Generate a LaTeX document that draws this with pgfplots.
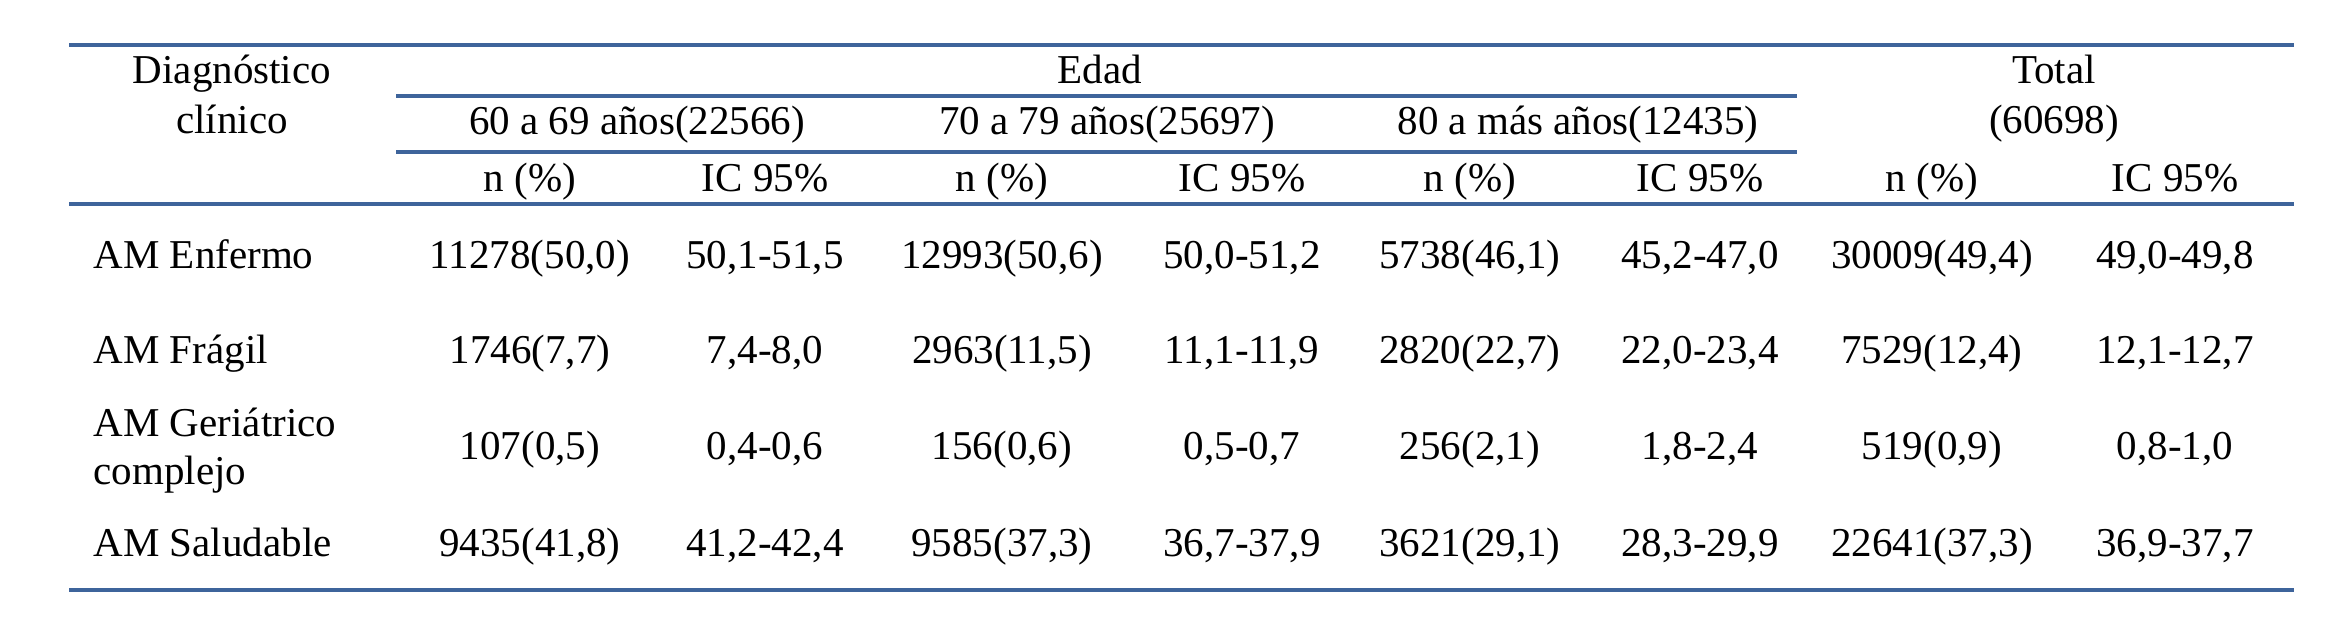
\documentclass[border=0pt]{standalone}
\usepackage{fontspec}
\setmainfont{Liberation Serif}
\usepackage{pgfplots}
\pgfplotsset{compat=1.18}
\definecolor{rulec}{RGB}{62,100,155}
\begin{document}
\begin{tikzpicture}
\begin{axis}[
 scale only axis, width=705pt, height=190.2pt,
 xmin=0, xmax=2350, ymin=0, ymax=634, y dir=reverse,
 hide axis, clip=false,
 every node near coord/.style={anchor=mid, inner sep=0pt, font=\fontsize{12.3}{14}\selectfont, text=black},
]
\path (axis cs:0,0) rectangle (axis cs:2350,634);
% rules
\draw[rulec, line width=1pt] (axis cs:69,45) -- (axis cs:2294,45);
\draw[rulec, line width=1pt] (axis cs:396,96) -- (axis cs:1797,96);
\draw[rulec, line width=1pt] (axis cs:396,152) -- (axis cs:1797,152);
\draw[rulec, line width=1pt] (axis cs:69,204) -- (axis cs:2294,204);
\draw[rulec, line width=1pt] (axis cs:69,590) -- (axis cs:2294,590);
% header
\addplot[draw=none, mark=none, nodes near coords, point meta=explicit symbolic] table[col sep=semicolon, meta=t] {
x;y;t
232;76;Diagnóstico
232;126;clínico
1100;76;Edad
637;127;60 a 69 años(22566)
1107;127;70 a 79 años(25697)
1578;127;80 a más años(12435)
2054;76;Total
2054;126;(60698)
530;184;n (\%)
765;184;IC 95\%
1002;184;n (\%)
1242;184;IC 95\%
1470;184;n (\%)
1700;184;IC 95\%
1932;184;n (\%)
2175;184;IC 95\%
};
% row labels
\addplot[draw=none, mark=none, nodes near coords, point meta=explicit symbolic,
  every node near coord/.append style={anchor=mid west}] table[col sep=semicolon, meta=t] {
x;y;t
93;261;AM Enfermo
93;356;AM Frágil
93;429;AM Geriátrico
93;477;complejo
93;549;AM Saludable
};
% data cells
\addplot[draw=none, mark=none, nodes near coords, point meta=explicit symbolic] table[col sep=semicolon, meta=t] {
x;y;t
530;261;11278(50,0)
765;261;50,1-51,5
1002;261;12993(50,6)
1242;261;50,0-51,2
1470;261;5738(46,1)
1700;261;45,2-47,0
1932;261;30009(49,4)
2175;261;49,0-49,8
530;356;1746(7,7)
765;356;7,4-8,0
1002;356;2963(11,5)
1242;356;11,1-11,9
1470;356;2820(22,7)
1700;356;22,0-23,4
1932;356;7529(12,4)
2175;356;12,1-12,7
530;452;107(0,5)
765;452;0,4-0,6
1002;452;156(0,6)
1242;452;0,5-0,7
1470;452;256(2,1)
1700;452;1,8-2,4
1932;452;519(0,9)
2175;452;0,8-1,0
530;549;9435(41,8)
765;549;41,2-42,4
1002;549;9585(37,3)
1242;549;36,7-37,9
1470;549;3621(29,1)
1700;549;28,3-29,9
1932;549;22641(37,3)
2175;549;36,9-37,7
};
\end{axis}
\end{tikzpicture}
\end{document}
